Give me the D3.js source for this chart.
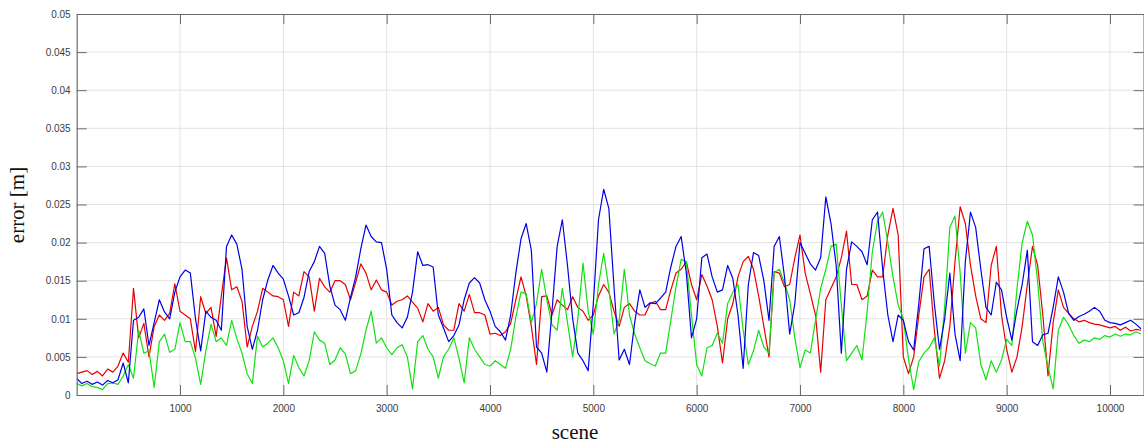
<!DOCTYPE html>
<html>
<head>
<meta charset="utf-8">
<script src="https://cdn.jsdelivr.net/npm/d3@7"></script>
<style>
  html, body { margin: 0; padding: 0; background: #fff; }
  svg { display: block; }
</style>
</head>
<body>
<svg id="chart" width="1144" height="444"></svg>
<script>
// ---- data (errors in units of 1e-3 m, sampled every SCENE_STEP scenes) ----
const SCENE_STEP = 50;
const SCENE_MAX = 10330;
const xTicks = [1000, 2000, 3000, 4000, 5000, 6000, 7000, 8000, 9000, 10000];
const yTicks = [0, 0.005, 0.01, 0.015, 0.02, 0.025, 0.03, 0.035, 0.04, 0.045, 0.05];
const xLabel = "scene";
const yLabel = "error [m]";

const redSeries = [
  2.8,3.0,3.2,2.7,3.1,2.5,3.4,3.0,3.8,5.5,
  4.3,14.0,7.5,9.4,5.0,9.0,10.5,9.8,10.7,14.6,
  11.0,10.5,10.0,5.7,12.9,10.7,11.5,7.7,13.0,18.0,
  13.8,14.2,12.3,6.3,9.0,11.0,14.0,13.5,13.0,12.9,
  12.5,9.0,13.5,13.0,16.2,15.5,11.0,15.3,14.2,13.5,
  15.0,15.0,14.5,12.5,14.8,17.2,16.0,13.8,15.1,13.8,
  13.5,11.8,12.3,12.5,13.0,12.2,11.4,9.6,12.0,11.0,
  11.5,9.2,8.5,8.5,12.0,11.0,13.2,10.8,10.8,10.5,
  8.0,8.1,7.8,8.3,9.4,12.5,15.5,13.0,9.0,4.0,
  12.9,13.0,10.5,12.5,11.8,11.2,12.9,11.5,11.0,9.8,
  10.5,13.0,14.5,13.5,11.0,9.0,11.5,12.0,11.0,10.5,
  10.5,12.0,12.3,11.2,11.2,13.8,16.0,16.5,17.5,14.5,
  12.5,15.8,14.3,12.5,9.0,4.2,10.0,12.0,15.5,17.5,
  18.2,16.5,13.0,9.0,5.0,16.2,16.0,14.2,14.5,18.0,
  21.0,16.0,13.3,10.5,3.0,12.5,14.0,15.5,18.0,21.5,
  14.5,14.5,12.5,13.0,16.4,15.5,15.5,21.0,24.5,21.0,
  5.0,2.8,5.0,10.5,15.5,16.5,8.5,2.2,4.5,9.0,
  17.5,24.7,22.5,17.0,13.0,10.0,9.5,17.0,19.5,10.5,
  6.0,3.0,5.0,9.0,14.5,19.5,17.0,10.5,2.5,9.5,
  13.8,11.5,10.7,10.0,9.6,9.8,9.5,9.3,9.2,9.0,
  8.8,9.0,8.5,8.9,8.4,8.6,8.5
];

const greenSeries = [
  1.5,1.2,1.5,1.1,1.0,0.7,1.5,1.6,1.4,2.5,
  4.0,2.2,8.5,5.5,5.8,1.0,7.0,8.0,5.6,6.0,
  9.5,7.0,7.0,4.8,1.4,5.8,9.3,7.0,7.5,6.5,
  9.8,7.4,5.5,2.8,1.5,7.7,6.3,6.8,7.5,6.2,
  4.5,1.5,5.2,3.6,2.5,4.5,8.3,7.2,6.8,4.0,
  4.6,6.2,5.4,2.8,3.2,5.4,8.5,11.0,6.8,7.5,
  6.2,5.3,6.2,6.6,5.0,0.8,7.0,7.8,6.0,5.0,
  2.2,5.0,6.0,7.5,4.8,1.6,7.5,6.0,5.0,4.0,
  3.8,4.5,4.0,3.5,6.0,10.2,13.5,13.3,9.5,12.0,
  16.5,12.5,9.2,8.5,14.0,9.5,5.0,10.0,17.3,11.0,
  8.0,14.5,18.6,14.0,8.0,9.8,16.5,10.5,8.0,6.2,
  4.5,4.1,3.8,5.5,5.5,9.8,14.2,17.8,17.5,10.5,
  4.0,2.5,6.2,6.5,8.1,6.8,12.0,13.5,14.5,8.5,
  4.0,5.8,8.5,6.3,5.5,16.0,16.5,14.7,12.5,7.5,
  3.6,5.9,5.5,9.8,14.0,16.5,19.5,19.8,11.8,4.5,
  5.5,6.5,4.6,11.0,18.8,22.8,24.0,20.0,15.5,11.8,
  10.0,4.7,0.7,4.4,5.5,6.2,7.5,3.8,11.5,22.0,
  23.5,16.0,5.5,9.5,8.8,4.0,2.0,4.5,3.0,4.6,
  7.3,6.5,14.0,20.0,22.8,21.0,14.8,7.0,3.7,0.8,
  8.5,10.2,9.2,7.8,6.8,7.2,7.0,7.5,7.3,7.8,
  7.6,8.0,7.7,8.0,7.9,8.3,8.0
];

const blueSeries = [
  2.2,1.5,1.8,1.4,1.7,1.3,1.9,1.6,2.0,4.2,
  1.6,9.8,10.2,11.3,6.5,9.5,12.5,10.9,10.0,13.5,
  15.5,16.4,16.0,10.0,5.8,11.0,10.2,9.8,8.5,19.5,
  21.0,19.8,16.5,9.0,6.0,8.5,12.5,15.1,17.0,16.0,
  15.2,13.0,10.5,10.8,12.8,16.2,17.5,19.5,18.6,14.3,
  11.8,11.2,9.8,12.8,15.5,19.2,22.3,20.8,20.1,20.0,
  16.5,10.5,9.5,8.8,10.2,13.5,18.8,17.0,17.1,16.8,
  10.5,8.8,7.0,7.8,9.2,12.5,14.7,15.4,14.7,12.5,
  11.0,9.0,8.3,7.2,10.5,16.0,20.5,22.5,19.0,6.3,
  5.5,3.0,11.0,19.5,23.0,17.0,10.0,5.5,4.5,3.2,
  12.0,23.0,27.0,24.5,14.2,4.6,6.0,4.0,9.5,13.8,
  11.5,12.1,12.0,12.7,13.5,16.8,19.5,20.8,16.0,7.5,
  10.0,18.0,18.5,15.5,13.5,13.8,17.0,15.3,10.5,3.5,
  14.5,18.7,18.3,15.0,9.8,19.5,20.8,15.5,8.0,12.0,
  20.0,18.6,17.2,16.4,18.0,26.0,22.5,17.0,5.5,16.5,
  20.1,19.5,18.8,17.1,23.0,24.0,16.5,10.5,7.0,10.5,
  9.8,7.0,5.9,12.0,19.2,19.5,12.0,6.0,10.0,16.0,
  8.0,4.5,17.5,24.0,22.0,16.5,11.5,10.5,14.8,13.8,
  10.2,7.2,11.2,14.5,19.0,7.0,6.5,7.9,8.1,11.5,
  15.5,13.5,10.7,9.8,10.3,10.6,11.0,11.5,11.0,9.8,
  9.5,9.4,9.2,9.5,9.8,9.3,8.7
];

const seriesList = [
  { name: "red",   values: redSeries,   color: "#e80000" },
  { name: "green", values: greenSeries, color: "#12e012" },
  { name: "blue",  values: blueSeries,  color: "#0000e6" }
];

// ---- layout ----
const plotLeft = 76.67, plotRight = 1144.1, plotTop = 14, plotBottom = 395;

const svg = d3.select("#chart");
const x = d3.scaleLinear().domain([0, SCENE_MAX]).range([plotLeft, plotRight]);
const y = d3.scaleLinear().domain([0, 0.05]).range([plotBottom, plotTop]);

// grid
const grid = svg.append("g").attr("class", "grid");
grid.selectAll("line.vx").data(xTicks).join("line")
  .attr("x1", d => x(d)).attr("x2", d => x(d))
  .attr("y1", plotTop).attr("y2", plotBottom)
  .attr("stroke", "#e3e3e3").attr("stroke-width", 1);
grid.selectAll("line.hy").data(yTicks.slice(1, -1)).join("line")
  .attr("x1", plotLeft).attr("x2", plotRight)
  .attr("y1", d => y(d)).attr("y2", d => y(d))
  .attr("stroke", "#e3e3e3").attr("stroke-width", 1);

// lines
const line = d3.line()
  .x((d, i) => x(i * SCENE_STEP))
  .y(d => y(d * 1e-3));

const clip = svg.append("clipPath").attr("id", "plotclip")
  .append("rect").attr("x", plotLeft).attr("y", plotTop)
  .attr("width", plotRight - plotLeft).attr("height", plotBottom - plotTop);

const lines = svg.append("g").attr("clip-path", "url(#plotclip)");
seriesList.forEach(s => {
  lines.append("path")
    .datum(s.values)
    .attr("fill", "none")
    .attr("stroke", s.color)
    .attr("stroke-width", 1.2)
    .attr("stroke-linejoin", "round")
    .attr("d", line);
});

// axes (MATLAB style: inward ticks, boxed)
const axisColor = "#6b6b6b";
const textColor = "#3c3c3c";
const fontFam = "'Liberation Sans', Arial, sans-serif";

const xAxis = d3.axisBottom(x).tickValues(xTicks).tickSizeInner(-10).tickSizeOuter(0)
  .tickPadding(8).tickFormat(d3.format("d"));
const gx = svg.append("g").attr("transform", `translate(0,${plotBottom})`).call(xAxis);

const yAxis = d3.axisLeft(y).tickValues(yTicks).tickSizeInner(-10).tickSizeOuter(0)
  .tickPadding(6).tickFormat(d => String(+d.toFixed(3)));
const gy = svg.append("g").attr("transform", `translate(${plotLeft},0)`).call(yAxis);

const xTop = d3.axisTop(x).tickValues(xTicks).tickSizeInner(-10).tickSizeOuter(0).tickFormat("");
const gxt = svg.append("g").attr("transform", `translate(0,${plotTop})`).call(xTop);

const yRight = d3.axisRight(y).tickValues(yTicks).tickSizeInner(-10).tickSizeOuter(0).tickFormat("");
const gyr = svg.append("g").attr("transform", `translate(${plotRight - 0.5},0)`).call(yRight);

[gx, gy, gxt, gyr].forEach(g => {
  g.selectAll("path.domain").attr("stroke", axisColor).attr("stroke-width", 1.2);
  g.selectAll(".tick line").attr("stroke", axisColor).attr("stroke-width", 1);
  g.selectAll(".tick text").attr("fill", textColor)
    .style("font-family", fontFam).style("font-size", "10px");
});
gx.selectAll(".tick text").attr("dy", "0.9em");

// axis labels
svg.append("text")
  .attr("x", 575).attr("y", 439)
  .attr("text-anchor", "middle")
  .style("font-family", "'Liberation Serif', 'Times New Roman', serif")
  .style("font-size", "21px")
  .attr("fill", "#111")
  .text(xLabel);

svg.append("text")
  .attr("transform", `translate(24,205) rotate(-90)`)
  .attr("text-anchor", "middle")
  .style("font-family", "'Liberation Serif', 'Times New Roman', serif")
  .style("font-size", "21px")
  .attr("fill", "#111")
  .text(yLabel);
</script>
</body>
</html>
